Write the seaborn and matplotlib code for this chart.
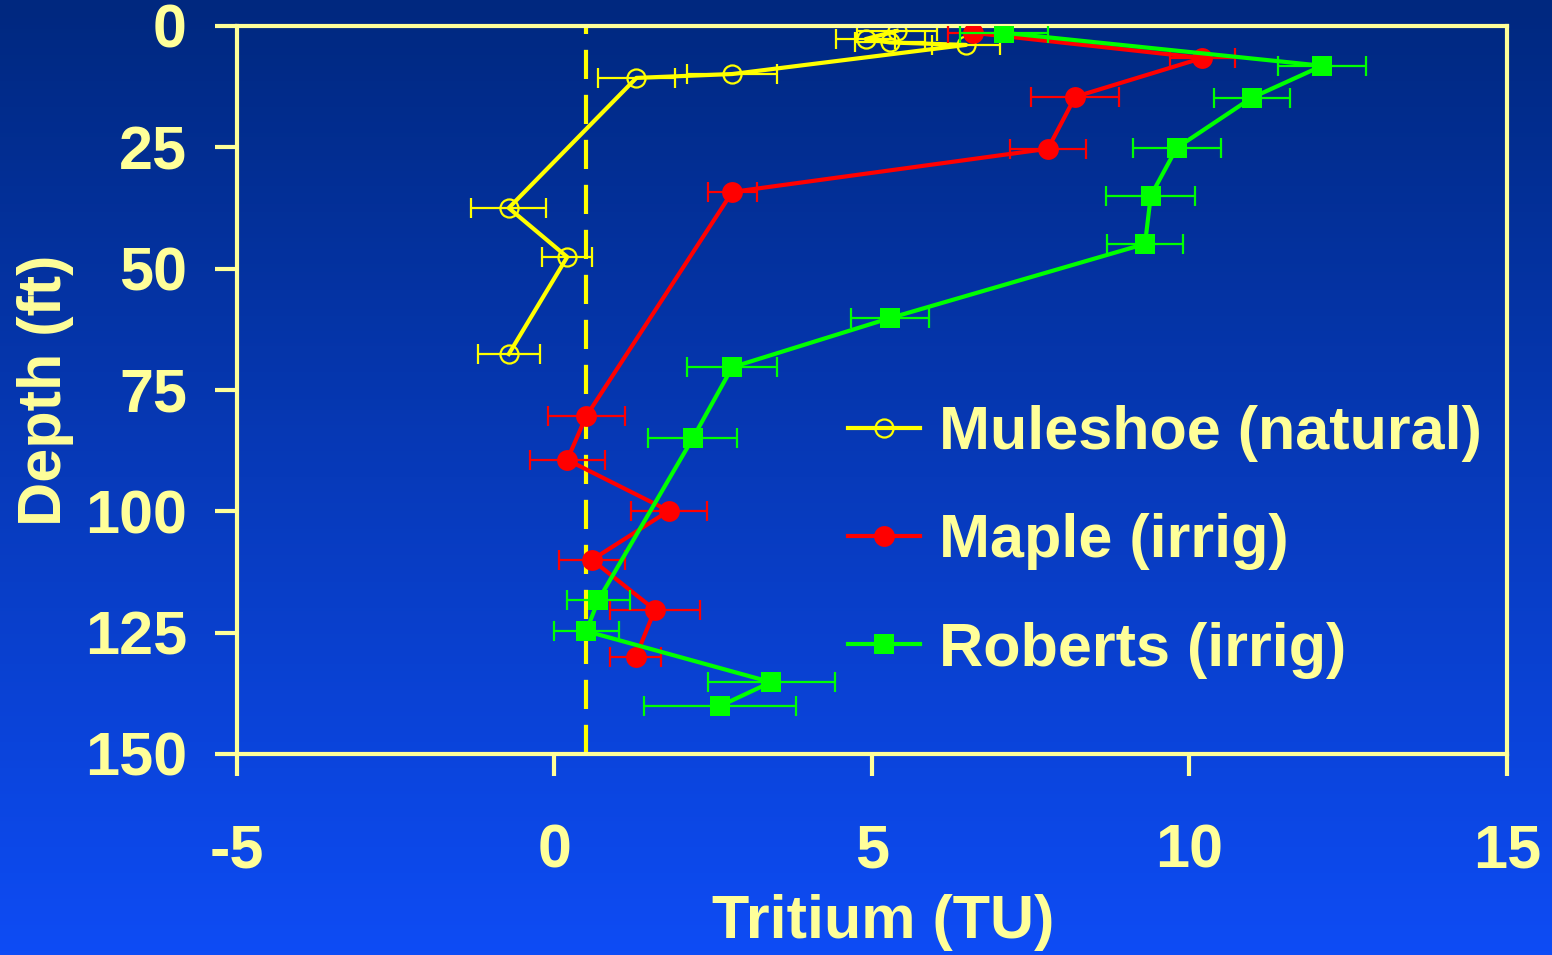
import numpy as np
import matplotlib
matplotlib.use("Agg")
import matplotlib.pyplot as plt
from matplotlib.colors import LinearSegmentedColormap
import seaborn as sns

# Tritium profiles (TU) versus depth (ft) with horizontal measurement uncertainty
mule_tu = [5.39, 4.90, 5.28, 6.48, 2.80, 1.29, -0.72, 0.20, -0.72]
mule_depth = [1.0, 2.7, 3.4, 3.9, 9.9, 10.7, 37.5, 47.6, 67.6]
mule_err = [0.63, 0.47, 0.55, 0.54, 0.71, 0.60, 0.59, 0.39, 0.49]

maple_tu = [6.59, 10.20, 8.20, 7.77, 2.80, 0.50, 0.20, 1.80, 0.59, 1.58, 1.28]
maple_depth = [1.4, 6.6, 14.6, 25.3, 34.2, 80.4, 89.4, 99.9, 110.0, 120.3, 130.0]
maple_err = [0.40, 0.51, 0.69, 0.60, 0.39, 0.61, 0.59, 0.60, 0.52, 0.71, 0.40]

rob_tu = [7.08, 12.09, 10.98, 9.80, 9.39, 9.30, 5.28, 2.80, 2.18, 0.69, 0.50, 3.41, 2.61]
rob_depth = [1.4, 8.2, 14.8, 25.1, 35.0, 44.9, 60.2, 70.3, 84.9, 118.3, 124.7, 135.2, 140.1]
rob_err = [0.69, 0.69, 0.60, 0.69, 0.70, 0.60, 0.61, 0.71, 0.70, 0.50, 0.51, 1.00, 1.20]

series_labels = ["Muleshoe (natural)", "Maple (irrig)", "Roberts (irrig)"]
detection_limit = 0.5

x_ticks = [-5, 0, 5, 10, 15]
y_ticks = [0, 25, 50, 75, 100, 125, 150]

CREAM = "#ffff99"
YELLOW = "#ffff00"
RED = "#ff0000"
GREEN = "#00ff00"

plt.rcParams["font.family"] = ["Liberation Sans", "DejaVu Sans"]
plt.rcParams["font.weight"] = "bold"
plt.rcParams["axes.unicode_minus"] = False

fig = plt.figure(figsize=(15.52, 9.55), dpi=100)

# vertical blue gradient background
bg = fig.add_axes([0, 0, 1, 1], zorder=-10)
cmap = LinearSegmentedColormap.from_list("slide", ["#0e4cf5", "#00287f"])
grad = np.linspace(0, 1, 256).reshape(-1, 1)
bg.imshow(grad, aspect="auto", cmap=cmap, extent=[0, 1, 0, 1], origin="lower")
bg.axis("off")

ax = fig.add_axes([0.1527, 0.2105, 0.8183, 0.7623])
ax.set_facecolor("none")

ax.axvline(detection_limit, color=YELLOW, lw=3, dashes=(7, 3.8), zorder=1)

specs = [
    (mule_tu, mule_depth, mule_err, YELLOW, "o", dict(markerfacecolor="none", markeredgecolor=YELLOW,
                                                    markeredgewidth=1.6, markersize=13)),
    (maple_tu, maple_depth, maple_err, RED, "o", dict(markerfacecolor=RED, markeredgecolor=RED,
                                                    markeredgewidth=0, markersize=15)),
    (rob_tu, rob_depth, rob_err, GREEN, "s", dict(markerfacecolor=GREEN, markeredgecolor=GREEN,
                                                  markeredgewidth=0, markersize=14.5)),
]

handles = []
for i, (xv, yv, ev, col, mk, mkw) in enumerate(specs):
    ax.errorbar(xv, yv, xerr=ev, fmt="none", ecolor=col, elinewidth=1.6,
                capsize=7, capthick=1.6, zorder=2 + i)
    sns.lineplot(x=xv, y=yv, sort=False, estimator=None, color=col, lw=3,
                 marker=mk, ax=ax, zorder=2.5 + i, legend=False, **mkw)
    handles.append(ax.get_lines()[-1])

ax.set_xlim(-5, 15)
ax.set_ylim(150, 0)
ax.set_xticks(x_ticks)
ax.set_yticks(y_ticks)
ax.set_xticklabels([str(t) for t in x_ticks])
ax.set_yticklabels([str(t) for t in y_ticks])

for side in ["left", "bottom", "right", "top"]:
    ax.spines[side].set_color(CREAM)
    ax.spines[side].set_linewidth(3)

ax.tick_params(axis="both", colors=CREAM, direction="out", length=16, width=3,
               labelsize=44)
ax.tick_params(axis="y", pad=20)
ax.tick_params(axis="x", pad=34)
for lbl in ax.get_xticklabels() + ax.get_yticklabels():
    lbl.set_fontweight("bold")

ax.set_xlabel("Tritium (TU)", color=CREAM, fontsize=44, fontweight="bold")
ax.xaxis.set_label_coords(0.509, -0.193, transform=ax.transAxes)
ax.set_ylabel("Depth (ft)", color=CREAM, fontsize=44, fontweight="bold", labelpad=8)

leg = ax.legend(handles, series_labels, loc="upper left", bbox_to_anchor=(0.462, 0.513),
                frameon=False, fontsize=44, handlelength=1.18, handletextpad=0.3,
                labelspacing=0.84, borderaxespad=0)
for t in leg.get_texts():
    t.set_color(CREAM)
    t.set_fontweight("bold")

fig.savefig("out.png", dpi=100)
